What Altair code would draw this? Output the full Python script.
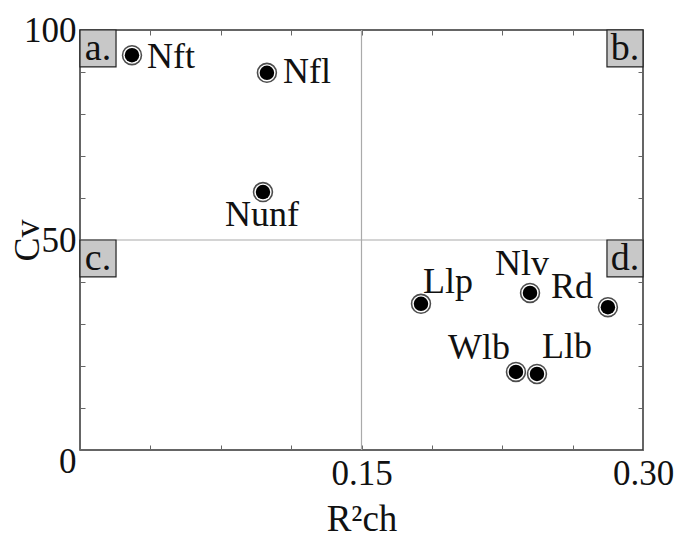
import altair as alt
import pandas as pd

# ---- data ----
labels = ["Nft", "Nfl", "Nunf", "Llp", "Nlv", "Rd", "Wlb", "Llb"]
r2ch = [0.0277, 0.0996, 0.0975, 0.1817, 0.2398, 0.2813, 0.2323, 0.2435]
cv = [94.0, 89.8, 61.4, 34.8, 37.4, 34.0, 18.6, 18.1]

quad_names = ["a.", "b.", "c.", "d."]
quad_x = [0.0, 0.2808, 0.0, 0.2808]
quad_x2 = [0.0192, 0.30, 0.0192, 0.30]
quad_y = [100.0, 100.0, 50.0, 50.0]
quad_y2 = [91.2, 91.2, 41.2, 41.2]

x_ticks = [0.0375 * i for i in range(9)]
y_ticks = [10 * i for i in range(11)]
x_labels = [0, 0.15, 0.30]
y_labels = [0, 50, 100]
grid_x = [0.15]
grid_y = [50]

# label placement (align, dx, dy) - styling
placement = {
    "Nft": ("left", 15, 13),
    "Nfl": ("left", 16, 10),
    "Nunf": ("center", -1, 34),
    "Llp": ("left", 2, -11),
    "Nlv": ("center", -8, -18),
    "Rd": ("right", -15, -9),
    "Wlb": ("right", -6, -13),
    "Llb": ("left", 5, -16),
}

FONT = "Liberation Serif"
W, H = 563, 420

df = pd.DataFrame({"label": labels, "r2ch": r2ch, "cv": cv})
qdf = pd.DataFrame({"q": quad_names, "x": quad_x, "x2": quad_x2, "y": quad_y, "y2": quad_y2})
gx = pd.DataFrame({"x": grid_x})
gy = pd.DataFrame({"y": grid_y})

xs = alt.Scale(domain=[0, 0.30], nice=False, zero=False)
ys = alt.Scale(domain=[0, 100], nice=False, zero=False)

base = alt.Chart(df)

main_x_axis = alt.Axis(
    values=x_labels, labelExpr="datum.value == 0 ? '' : format(datum.value, '.2f')",
    ticks=False, domain=False, grid=False, title="R²ch", labelFlush=False,
    labelFont=FONT, labelFontSize=35, labelColor="#111", labelPadding=6,
    titleFont=FONT, titleFontSize=37, titleFontWeight="normal", titleColor="#111", titlePadding=10,
)
main_y_axis = alt.Axis(
    values=y_labels, labelExpr="format(datum.value, 'd')",
    ticks=False, domain=False, grid=False, title="Cv", labelFlush=False,
    labelFont=FONT, labelFontSize=35, labelColor="#111", labelPadding=4,
    labelOffset={"condition": {"test": "datum.value == 0", "value": 11}, "value": 0},
    titleFont=FONT, titleFontSize=36, titleFontWeight="normal", titleColor="#111",
    titleX=-53, titleY=H / 2, titleBaseline="middle", titleAngle=270,
)

outer = base.mark_circle(size=420, color="black").encode(
    x=alt.X("r2ch:Q", scale=xs, axis=main_x_axis),
    y=alt.Y("cv:Q", scale=ys, axis=main_y_axis),
)
ring = base.mark_circle(size=300, color="white", opacity=1).encode(
    x=alt.X("r2ch:Q", scale=xs, axis=None), y=alt.Y("cv:Q", scale=ys, axis=None)
)
inner = base.mark_circle(size=210, color="black", opacity=1).encode(
    x=alt.X("r2ch:Q", scale=xs, axis=None), y=alt.Y("cv:Q", scale=ys, axis=None)
)

tick_common = dict(labels=False, domain=False, grid=False, title=None, ticks=True,
                   tickSize=5, tickColor="#666", tickWidth=1)
ticksA = base.mark_point(opacity=0).encode(
    x=alt.X("r2ch:Q", scale=xs, axis=alt.Axis(orient="top", offset=-H, values=x_ticks, **tick_common)),
    y=alt.Y("cv:Q", scale=ys, axis=alt.Axis(orient="right", offset=-W, values=y_ticks, **tick_common)),
)
ticksB = base.mark_point(opacity=0).encode(
    x=alt.X("r2ch:Q", scale=xs, axis=alt.Axis(orient="bottom", offset=-H, values=x_ticks, **tick_common)),
    y=alt.Y("cv:Q", scale=ys, axis=alt.Axis(orient="left", offset=-W, values=y_ticks, **tick_common)),
)

vgrid = alt.Chart(gx).mark_rule(color="#aaaaaa", strokeWidth=1.2).encode(
    x=alt.X("x:Q", scale=xs, axis=None)
)
hgrid = alt.Chart(gy).mark_rule(color="#aaaaaa", strokeWidth=1.2).encode(
    y=alt.Y("y:Q", scale=ys, axis=None)
)

qbox = alt.Chart(qdf).mark_rect(fill="#c8c8c8", stroke="#222", strokeWidth=1.2).encode(
    x=alt.X("x:Q", scale=xs, axis=None), x2="x2:Q",
    y=alt.Y("y:Q", scale=ys, axis=None), y2="y2:Q",
)
qtext = alt.Chart(qdf).transform_calculate(xc="(datum.x + datum.x2) / 2").mark_text(
    font=FONT, fontSize=38, color="#111", baseline="alphabetic", align="center", dy=-7
).encode(
    x=alt.X("xc:Q", scale=xs, axis=None),
    y=alt.Y("y2:Q", scale=ys, axis=None),
    text="q:N",
)

texts = []
for name in labels:
    al, dx, dy = placement[name]
    texts.append(
        base.transform_filter(alt.datum.label == name).mark_text(
            font=FONT, fontSize=36, color="#111", align=al, baseline="alphabetic", dx=dx, dy=dy
        ).encode(
            x=alt.X("r2ch:Q", scale=xs, axis=None),
            y=alt.Y("cv:Q", scale=ys, axis=None),
            text="label:N",
        )
    )

chart = alt.layer(
    vgrid, hgrid, outer, ring, inner, ticksA, ticksB, qbox, qtext, *texts
).resolve_axis(x="independent", y="independent").properties(
    width=W, height=H,
    autosize=alt.AutoSizeParams(type="none"),
    padding={"left": 72, "top": 22, "right": 35, "bottom": 89},
    background="white",
).configure_view(stroke="#333", strokeWidth=1.5)

chart.save("out.html", embed_options={"renderer": "svg", "actions": False})
